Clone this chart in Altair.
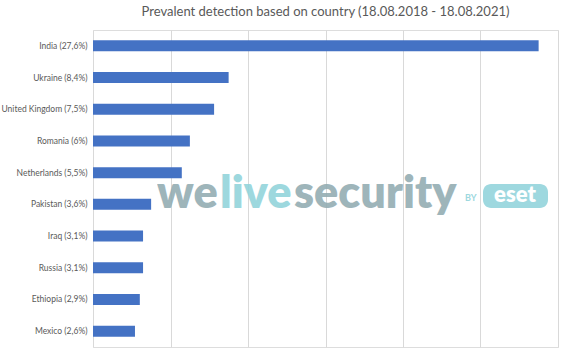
import altair as alt
import pandas as pd

countries = ["India (27,6%)", "Ukraine (8,4%)", "United Kingdom (7,5%)", "Romania (6%)",
             "Netherlands (5,5%)", "Pakistan (3,6%)", "Iraq (3,1%)", "Russia (3,1%)",
             "Ethiopia (2,9%)", "Mexico (2,6%)"]
shares = [27.6, 8.4, 7.5, 6.0, 5.5, 3.6, 3.1, 3.1, 2.9, 2.6]
grid_ticks = [0, 4.8, 9.6, 14.4, 19.2, 24.0, 28.8]

df = pd.DataFrame({"country": countries, "share": shares})

FONT = "Lato"
GRAY = "#595959"

bars = alt.Chart(df).mark_bar(color="#4472C4", size=11).encode(
    x=alt.X("share:Q", scale=alt.Scale(domain=[0, 28.8], nice=False, zero=True),
            axis=alt.Axis(values=grid_ticks, labels=False, ticks=False, domain=False,
                          grid=True, gridColor="#D9D9D9", gridWidth=1, title=None)),
    y=alt.Y("country:N", sort=countries,
            scale=alt.Scale(paddingInner=0, paddingOuter=0),
            axis=alt.Axis(title=None, ticks=False, domain=False, labelFont=FONT,
                          labelFontSize=8.5, labelColor=GRAY, labelPadding=6, grid=False,
                          labelLimit=0)),
)

wm_gray = "#94ADB3"
wm_teal = "#93D4DB"
wm_size = 45

def wm_text(txt, x, color, size=wm_size, weight=800, y=178):
    return alt.Chart(df.head(1)).mark_text(
        text=txt, font=FONT, fontSize=size, fontWeight=weight, color=color,
        align="left", baseline="alphabetic", opacity=0.9
    ).encode(x=alt.value(x), y=alt.value(y))

wm = (wm_text("we", 64, wm_gray) + wm_text("live", 127, wm_teal) + wm_text("security", 201, wm_gray)
      + wm_text("BY", 372, wm_teal, size=9, weight=700, y=171))

eset_box = alt.Chart(df.head(1)).mark_rect(
    color=wm_teal, cornerRadius=8, opacity=0.9
).encode(x=alt.value(390), x2=alt.value(455), y=alt.value(154), y2=alt.value(178))
eset_txt = alt.Chart(df.head(1)).mark_text(
    text="eset", font=FONT, fontSize=22, fontWeight=800, color="white", align="center",
    baseline="middle"
).encode(x=alt.value(422), y=alt.value(165))

chart = (bars + wm + eset_box + eset_txt).properties(
    width=465, height=317,
    title=alt.TitleParams("Prevalent detection based on country (18.08.2018 - 18.08.2021)",
                          font=FONT, fontSize=13, fontWeight="normal", color=GRAY, offset=11,
                          anchor="middle"),
    autosize=alt.AutoSizeParams(type="none"),
    padding={"left": 93, "top": 30, "right": 13, "bottom": 7},
).configure_view(stroke=None).configure(background="white")

chart.save("out.html", embed_options={"renderer": "svg", "actions": False})
